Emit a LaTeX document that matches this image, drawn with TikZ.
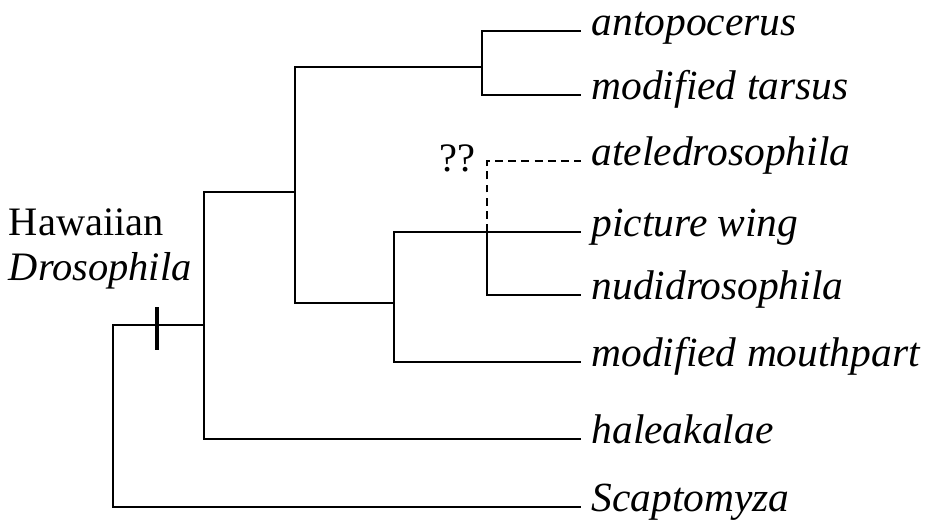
\documentclass[tikz,border=0pt]{standalone}
\usepackage{fontspec}
\setmainfont{Liberation Serif}
\usetikzlibrary{positioning}

\tikzset{
  leaf/.style={anchor=west, inner sep=0pt, outer xsep=6pt,
    text height=16pt, text depth=11.4pt,
    font=\fontsize{23.6}{28}\selectfont\itshape},
}

\begin{document}
\begin{tikzpicture}[x=0.02cm, y=-0.02cm, line width=1.1pt]
\useasboundingbox (0,0) rectangle (939,531);

% Taxa
\node[leaf] (ant) at (581,31) {antopocerus};
\node[leaf] (tar) at (581,95) {modified tarsus};
\node[leaf] (ate) at (581,161) {ateledrosophila};
\node[leaf] (pic) at (581,232) {picture wing};
\node[leaf] (nud) at (581,295) {nudidrosophila};
\node[leaf] (mou) at (581,362) {modified mouthpart};
\node[leaf] (hal) at (581,439) {haleakalae};
\node[leaf] (sca) at (581,507) {Scaptomyza};

% Internal nodes
\coordinate (root) at (113,325);
\coordinate (haw) at (204,325);
\coordinate (n2) at (295,192);
\coordinate (n3) at (482,67);
\coordinate (n4) at (394,303);
\coordinate (n5) at (487,232);

% Branches
\draw (haw) -- (root) |- (sca.west);
\draw (haw) |- (n2);
\draw (haw) |- (hal.west);
\draw (n2) |- (n3);
\draw (n2) |- (n4);
\draw (n3) |- (ant.west);
\draw (n3) |- (tar.west);
\draw (n4) |- (pic.west);
\draw (n4) |- (mou.west);
\draw (n5) |- (nud.west);
\draw[dashed, dash pattern=on 4.5pt off 3pt] (n5) |- (ate.west);

% Uncertain placement
\node[font=\fontsize{23}{26}\selectfont] (qq) at (457,158) {??};

% Hawaiian clade
\node[anchor=west, align=left, inner sep=0pt,
  font=\fontsize{23}{26}\selectfont] (lab) at (8,249) {Hawaiian\\\textit{Drosophila}};
\coordinate (tick) at (157,325);
\draw[line width=2.4pt] ([yshift=0.36cm]tick) -- ([yshift=-0.5cm]tick);

\end{tikzpicture}
\end{document}
